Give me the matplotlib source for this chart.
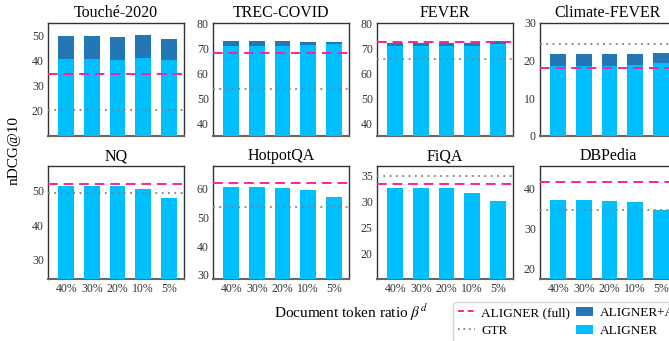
import matplotlib
matplotlib.use("Agg")
import matplotlib.pyplot as plt
from matplotlib.lines import Line2D
from matplotlib.patches import Patch
import numpy as np

plt.rcParams['font.family'] = ['Liberation Serif', 'DejaVu Serif']
plt.rcParams['mathtext.fontset'] = 'stix'

ratios = ["40%", "30%", "20%", "10%", "5%"]

datasets_top = ["Touché-2020", "TREC-COVID", "FEVER", "Climate-FEVER"]
datasets_bot = ["NQ", "HotpotQA", "FiQA", "DBPedia"]

# ALIGNER+AA (total) values, top row only
aa_touche = [50.0, 50.0, 49.6, 50.5, 48.8]
aa_trec = [73.0, 73.0, 73.0, 72.6, 72.6]
aa_fever = [72.3, 72.3, 72.3, 72.3, 73.0]
aa_climate = [21.8, 21.8, 21.8, 21.8, 22.1]

# ALIGNER values
al_touche = [40.8, 40.8, 40.4, 41.2, 40.4]
al_trec = [71.1, 71.1, 71.1, 71.5, 71.9]
al_fever = [71.1, 71.1, 71.1, 71.1, 71.9]
al_climate = [18.5, 18.5, 18.5, 18.8, 19.4]
al_nq = [51.5, 51.5, 51.5, 50.6, 48.0]
al_hotpot = [60.5, 60.5, 60.1, 59.4, 57.0]
al_fiqa = [32.6, 32.6, 32.6, 31.7, 30.2]
al_dbpedia = [37.25, 37.25, 37.0, 36.6, 34.75]

# ALIGNER (full) reference lines
full_vals = [34.8, 68.3, 72.6, 18.1, 52.1, 62.0, 33.5, 41.7]
# GTR reference lines
gtr_vals = [20.3, 53.9, 66.0, 24.3, 49.3, 53.5, 35.0, 34.7]

ylims = [(10, 55.3), (35.2, 80.3), (35.2, 80.3), (0, 30),
         (24.4, 57.2), (28.5, 67.9), (15.0, 36.9), (17.5, 45.7)]
yticks = [[20, 30, 40, 50], [40, 50, 60, 70, 80], [40, 50, 60, 70, 80], [0, 10, 20, 30],
          [30, 40, 50], [30, 40, 50, 60], [20, 25, 30, 35], [20, 30, 40]]

aa_series = [aa_touche, aa_trec, aa_fever, aa_climate, None, None, None, None]
al_series = [al_touche, al_trec, al_fever, al_climate, al_nq, al_hotpot, al_fiqa, al_dbpedia]
titles = datasets_top + datasets_bot

W, H = 669, 341
fig = plt.figure(figsize=(W / 100, H / 100), dpi=100)

col_x = [48, 213, 377, 540]
ax_w = 136
rows = [(22.7, 136), (166, 279)]

LIGHT = "#00BFFF"
DARK = "#2277B4"
PINK = "#FF1F9A"
GRAY = "#808080"

x = np.arange(len(ratios))
for i in range(8):
    r, c = divmod(i, 4)
    yt, yb = rows[r]
    ax = fig.add_axes([col_x[c] / W, 1 - yb / H, ax_w / W, (yb - yt) / H])
    if aa_series[i] is not None:
        ax.bar(x, aa_series[i], width=0.62, color=DARK, zorder=2)
    ax.bar(x, al_series[i], width=0.62, color=LIGHT, zorder=3)
    ax.axhline(full_vals[i], color=PINK, ls=(0, (5, 3)), lw=1.4, zorder=4)
    ax.axhline(gtr_vals[i], color=GRAY, ls=(0, (1, 2.5)), lw=1.3, zorder=4)
    ax.set_xlim(-0.72, 4.6)
    ax.set_ylim(*ylims[i])
    ax.set_yticks(yticks[i])
    ax.set_title(titles[i], fontsize=11.5, pad=4)
    ax.tick_params(length=0, labelsize=8.5, colors="#333333", pad=3)
    ax.set_xticks(x)
    if r == 0:
        ax.set_xticklabels([])
    else:
        ax.set_xticklabels(ratios)
    for s in ax.spines.values():
        s.set_color("#333333")
        s.set_linewidth(1.0)
    ax.spines['bottom'].set_color("#666666")
    ax.spines['bottom'].set_linewidth(1.5)

fig.text(14 / W, 1 - 150 / H, "nDCG@10", rotation=90, ha="center", va="center", fontsize=11)
fig.text(351 / W, 1 - 311 / H, r"Document token ratio $\beta^d$", ha="center", va="center", fontsize=11)

handles = [
    Line2D([0], [0], color=PINK, ls=(0, (3, 2)), lw=1.4),
    Line2D([0], [0], color=GRAY, ls=(0, (1, 2)), lw=1.3),
    Patch(facecolor=DARK),
    Patch(facecolor=LIGHT),
]
labels = ["ALIGNER (full)", "GTR", "ALIGNER+AA", "ALIGNER"]
fig.legend(handles, labels, ncol=2, loc="upper left",
           bbox_to_anchor=(453 / W, 1 - 302 / H), fontsize=9.5,
           frameon=True, edgecolor="#cccccc", fancybox=True,
           handlelength=1.3, handletextpad=0.5, columnspacing=0.4,
           borderpad=0.35, labelspacing=0.45, borderaxespad=0)

fig.savefig("out.png", dpi=100)
